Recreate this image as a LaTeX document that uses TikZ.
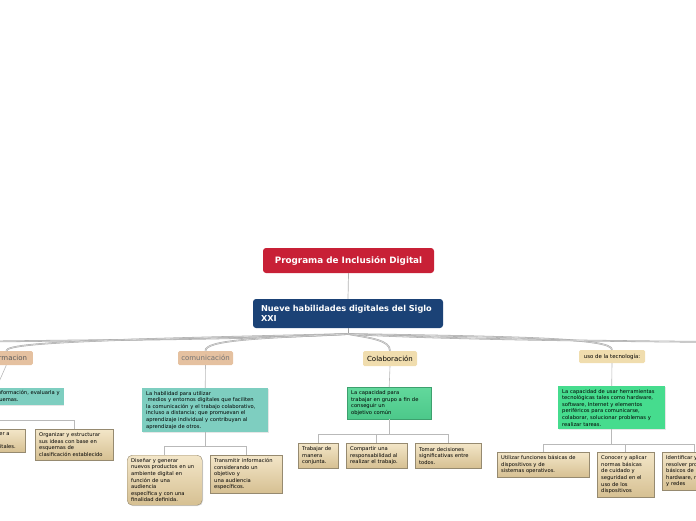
\documentclass[tikz,border=0pt]{standalone}
\usepackage{fontspec}
\setmainfont{DejaVu Sans}
\usepackage{tikz}
\usetikzlibrary{shadows}
\definecolor{titlered}{RGB}{200,32,54}
\definecolor{nueveblue}{RGB}{27,66,118}
\definecolor{tealbox}{RGB}{126,206,192}
\definecolor{peach}{RGB}{229,193,160}
\definecolor{sand}{RGB}{240,221,174}
\definecolor{leaftop}{RGB}{243,230,200}
\definecolor{leafbot}{RGB}{214,192,146}
\definecolor{leafedge}{RGB}{150,138,112}
\definecolor{greenA}{RGB}{76,200,138}
\definecolor{greenAtop}{RGB}{98,216,156}
\definecolor{greenB}{RGB}{70,220,142}

\newcommand{\leaffont}{\fontsize{5.2}{6.6}\selectfont}

\tikzset{
  branch/.style={draw=gray!65, double=gray!30, double distance=0.6pt, line width=0.55pt},
  conn/.style={draw=gray!55, line width=0.6pt},
  topic/.style={rounded corners=1.5pt, inner sep=1pt, font=\fontsize{7}{8}\selectfont},
  desc/.style={anchor=north west, align=left, inner xsep=4pt, inner ysep=2pt, font=\leaffont,
    drop shadow={shadow xshift=0.6pt, shadow yshift=-0.8pt, opacity=0.2}},
  leaf/.style={draw=leafedge, top color=leaftop, bottom color=leafbot, anchor=north west,
    align=left, inner xsep=4pt, inner ysep=2.5pt, font=\leaffont,
    drop shadow={shadow xshift=0.8pt, shadow yshift=-0.8pt, opacity=0.25}}
}

\begin{document}
\begin{tikzpicture}[x=1pt, y=-1pt]
\useasboundingbox (0,0) rectangle (696,520);
\clip (0,0) rectangle (696,520);

% raiz
\node[fill=titlered, rounded corners=3pt, minimum width=171, minimum height=25,
  text=white, font=\fontsize{8.8}{10}\selectfont\bfseries] (titulo) at (348.5,260.5)
  {Programa de Inclusión Digital};
\node[fill=nueveblue, rounded corners=3pt, text width=182, inner xsep=4pt, minimum height=29,
  align=left, text=white, font=\fontsize{8.2}{9.8}\selectfont\bfseries] (nueve) at (348,313.5)
  {\hspace{4pt}Nueve habilidades digitales del Siglo\\\hspace{4pt}XXI};
\draw[draw=gray!60, line width=0.7pt] (titulo.south) -- (nueve.north);

% temas
\node[topic, fill=peach, text=black!65, anchor=east, minimum width=53, minimum height=14] (formacion) at (33,358) {Informacion};
\node[topic, fill=peach, text=black!55, minimum width=55, minimum height=14] (comun) at (205.5,358) {comunicación};
\node[topic, fill=sand, text=black, minimum width=54, minimum height=15] (colab) at (390,358.5) {Colaboración};
\node[topic, fill=sand, text=black, minimum width=66, minimum height=13, font=\fontsize{5.4}{6}\selectfont] (uso) at (612,356.5) {uso de la tecnología:};

% ramas
\coordinate (hub) at (348,334);
\coordinate (fueraizq) at (-200,344);
\coordinate (fuerader) at (900,343);
\draw[draw=gray!70, line width=1pt] (nueve.south) -- (hub);
\draw[branch] (hub) .. controls (250,340) and (60,340) .. (fueraizq);
\draw[branch] (hub) .. controls (150,339) and (6,341) .. (formacion.north);
\draw[branch] (hub) .. controls (260,338) and (205,340) .. (comun.north);
\draw[branch] (hub) .. controls (370,338) and (390,340) .. (colab.north);
\draw[branch] (hub) .. controls (520,337) and (612,338) .. (uso.north);
\draw[branch] (hub) .. controls (460,340) and (650,342) .. (fuerader);

% formacion
\node[desc, fill=tealbox, anchor=north east, text width=127, minimum height=17] (fordesc) at (64,388)
  {La capacidad de buscar información, evaluarla y\\organizarla mediante esquemas.};
\node[leaf, text width=70, minimum height=23] (forhoja1) at (-53,429)
  {Identificar y acceder a\\fuentes\\de información digitales.};
\node[leaf, text width=70, minimum height=31] (forhoja2) at (35,429)
  {Organizar y estructurar\\sus ideas con base en\\esquemas de\\clasificación establecido};
\draw[conn] (formacion.south) -- (fordesc.north);
\draw[conn] (fordesc.south) -- ++(0,15) -| (forhoja1.north);
\draw[conn] (fordesc.south) -- ++(0,15) -| (forhoja2.north);

% comunicacion
\node[desc, fill=tealbox, text width=118, minimum height=44] (comdesc) at (142,388)
  {La habilidad para utilizar\\\hspace{1.3pt}medios y entornos digitales que faciliten\\la comunicación y el trabajo colaborativo,\\incluso a distancia; que promuevan el\\aprendizaje individual y contribuyan al\\aprendizaje de otros.};
\node[leaf, rounded corners=5pt, text width=67, minimum height=50] (comhoja1) at (127,455)
  {Diseñar y generar\\nuevos productos en un\\ambiente digital en\\función de una\\audiencia\\específica y con una\\finalidad definida.};
\node[leaf, text width=64, minimum height=38] (comhoja2) at (210,455)
  {Transmitir información\\considerando un\\objetivo y\\una audiencia\\específicos.};
\draw[conn] (comun.south) -- (comdesc.north);
\draw[conn] (comdesc.south) -- ++(0,14) -| (comhoja1.north);
\draw[conn] (comdesc.south) -- ++(0,14) -| (comhoja2.north);

% colaboracion
\node[desc, draw=greenA!80!black, top color=greenAtop, bottom color=greenA, text width=76, minimum height=32] (colabdesc) at (347,387)
  {La capacidad para\\trabajar en grupo a fin de\\conseguir un\\objetivo común};
\node[leaf, text width=32, minimum height=25] (colabhoja1) at (298,443)
  {Trabajar de\\manera\\conjunta.};
\node[leaf, text width=53, minimum height=25] (colabhoja2) at (346,443)
  {Compartir una\\responsabilidad al\\realizar el trabajo.};
\node[leaf, text width=58, minimum height=25] (colabhoja3) at (415,443)
  {Tomar decisiones\\significativas entre\\todos.};
\draw[conn] (colab.south) -- (colabdesc.north);
\draw[conn] (colabdesc.south) -- ++(0,15) -| (colabhoja1.north);
\draw[conn] (colabdesc.south) -- ++(0,15) -| (colabhoja2.north);
\draw[conn] (colabdesc.south) -- ++(0,15) -| (colabhoja3.north);

% uso de la tecnologia
\node[desc, fill=greenB, text width=99, minimum height=43] (usodesc) at (558,386)
  {La capacidad de usar herramientas\\tecnológicas tales como hardware,\\software, Internet y elementos\\periféricos para comunicarse,\\colaborar, solucionar problemas y\\realizar tareas.};
\node[leaf, text width=84, minimum height=25] (usohoja1) at (497,452)
  {Utilizar funciones básicas de\\dispositivos y de\\sistemas operativos.};
\node[leaf, text width=49, minimum height=45] (usohoja2) at (597,452)
  {Conocer y aplicar\\normas básicas\\de cuidado y\\seguridad en el\\uso de los\\dispositivos};
\node[leaf, text width=56, minimum height=38] (usohoja3) at (662,452)
  {Identificar y\\resolver problemas\\básicos de\\hardware, red\\y redes};
\draw[conn] (uso.south) -- (usodesc.north);
\draw[conn] (usodesc.south) -- ++(0,15) -| (usohoja1.north);
\draw[conn] (usodesc.south) -- ++(0,15) -| (usohoja2.north);
\draw[conn] (usodesc.south) -- ++(0,15) -| (usohoja3.north);
\end{tikzpicture}
\end{document}
